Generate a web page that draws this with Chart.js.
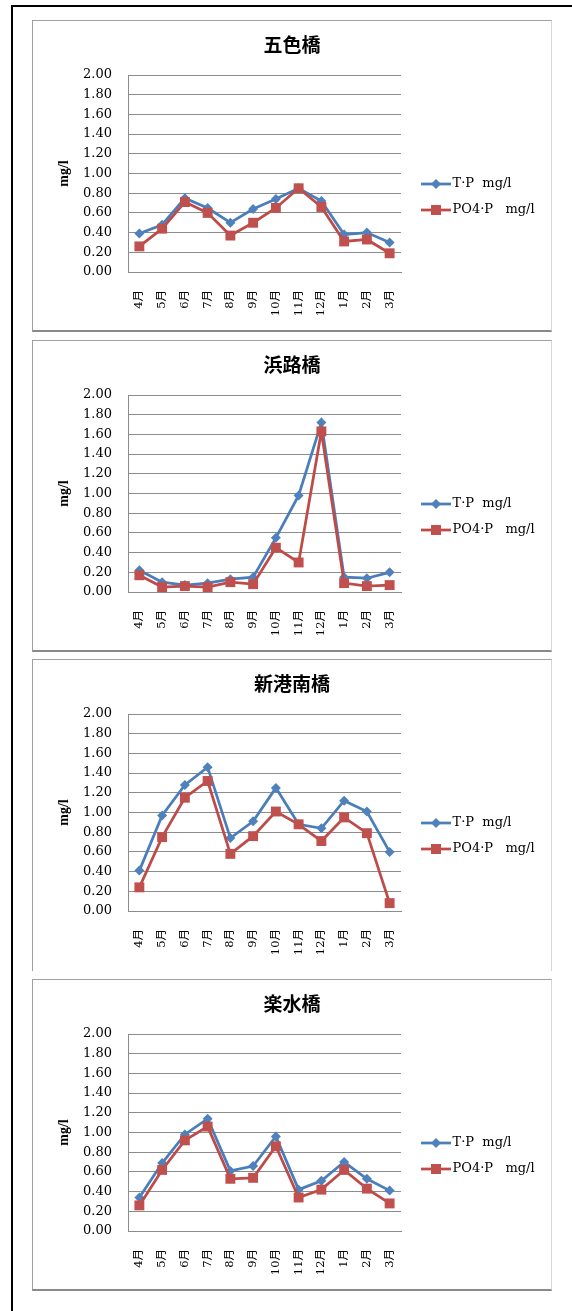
<!DOCTYPE html>
<html>
<head>
<meta charset="utf-8">
<script src="https://cdn.jsdelivr.net/npm/chart.js@4.4.1/dist/chart.umd.min.js"></script>
<style>
html,body{margin:0;padding:0;background:#fff;}
body{width:572px;height:1311px;position:relative;overflow:hidden;}
#frameTop{position:absolute;left:11px;top:5px;width:561px;height:2px;background:#000;}
#frameLeft{position:absolute;left:11px;top:5px;width:2px;height:1306px;background:#000;}
.panel{position:absolute;left:32px;width:518px;height:309px;border:1px solid #a0a0a0;border-right-color:#d6d6d6;border-bottom:2px solid #8a8a8a;background:#fff;}
.panel canvas{display:block;}
</style>
</head>
<body>
<div id="frameTop"></div>
<div id="frameLeft"></div>
<div class="panel" style="top:20px"><canvas id="c0" width="518" height="309"></canvas></div>
<div class="panel" style="top:340px"><canvas id="c1" width="518" height="309"></canvas></div>
<div class="panel" style="top:659px;height:311px;border-bottom:none"><canvas id="c2" width="518" height="309"></canvas></div>
<div class="panel" style="top:979px"><canvas id="c3" width="518" height="309"></canvas></div>
<script>
// ---- data ----
const months = ['4月','5月','6月','7月','8月','9月','10月','11月','12月','1月','2月','3月'];
const stations = ['五色橋','浜路橋','新港南橋','楽水橋'];
const seriesNames = ['T·P  mg/l','PO4·P   mg/l'];
const yAxisTitle = 'mg/l';

const tpGoshiki   = [0.39,0.48,0.75,0.65,0.50,0.64,0.74,0.85,0.72,0.38,0.40,0.30];
const po4Goshiki  = [0.26,0.44,0.71,0.60,0.37,0.50,0.65,0.85,0.66,0.31,0.33,0.19];

const tpHamaji    = [0.22,0.10,0.07,0.09,0.13,0.15,0.55,0.98,1.72,0.15,0.14,0.20];
const po4Hamaji   = [0.17,0.05,0.06,0.05,0.10,0.08,0.45,0.30,1.63,0.09,0.06,0.07];

const tpShinko    = [0.41,0.97,1.28,1.46,0.74,0.91,1.25,0.88,0.84,1.12,1.01,0.60];
const po4Shinko   = [0.24,0.75,1.15,1.32,0.58,0.76,1.01,0.88,0.71,0.95,0.79,0.08];

const tpRakusui   = [0.34,0.69,0.98,1.14,0.61,0.66,0.96,0.42,0.51,0.70,0.53,0.41];
const po4Rakusui  = [0.26,0.62,0.92,1.06,0.53,0.54,0.86,0.34,0.42,0.62,0.43,0.28];

const tpAll  = [tpGoshiki, tpHamaji, tpShinko, tpRakusui];
const po4All = [po4Goshiki, po4Hamaji, po4Shinko, po4Rakusui];

// ---- styles ----
const BLUE_LINE = '#4A7EBB', BLUE_PT = '#4F81BD';
const RED_LINE = '#BE4B48', RED_PT = '#C0504D';
const GRID = '#8c8c8c';
const LEG_FONT = 13;
const LEG_PAD = 13;
const LEG_BOX = 32;

function legendImage(lineColor, ptColor, shape) {
  const c = document.createElement('canvas');
  c.width = 60; c.height = 14;
  const g = c.getContext('2d');
  g.strokeStyle = lineColor; g.lineWidth = 2.75;
  g.beginPath(); g.moveTo(21, 7); g.lineTo(51, 7); g.stroke();
  g.fillStyle = ptColor;
  if (shape === 'rect') {
    g.fillRect(31, 2, 10, 10);
  } else {
    g.beginPath(); g.moveTo(36, 2); g.lineTo(41, 7); g.lineTo(36, 12); g.lineTo(31, 7); g.closePath(); g.fill();
  }
  return c;
}
const legendImgs = [legendImage(BLUE_LINE, BLUE_PT, 'rectRot'), legendImage(RED_LINE, RED_PT, 'rect')];

const meas = document.createElement('canvas').getContext('2d');
meas.font = LEG_FONT + 'px "DejaVu Serif"';
const textW = Math.max(...seriesNames.map(s => meas.measureText(s).width));
const legendW = LEG_PAD + LEG_BOX + LEG_FONT / 2 + textW + 10;
const sidePad = 150 - legendW;

Chart.defaults.color = '#000';

function makeChart(id, title, tp, po4) {
  new Chart(document.getElementById(id), {
    type: 'line',
    data: {
      labels: months,
      datasets: [
        { label: seriesNames[0], data: tp, order: 1,
          borderColor: BLUE_LINE, backgroundColor: BLUE_PT, borderWidth: 2.75,
          pointStyle: 'rectRot', pointRadius: 5, pointBackgroundColor: BLUE_PT,
          pointBorderColor: BLUE_PT, pointBorderWidth: 0, tension: 0 },
        { label: seriesNames[1], data: po4, order: 0,
          borderColor: RED_LINE, backgroundColor: RED_PT, borderWidth: 2.75,
          pointStyle: 'rect', pointRadius: 7, pointBackgroundColor: RED_PT,
          pointBorderColor: RED_PT, pointBorderWidth: 0, tension: 0 }
      ]
    },
    options: {
      responsive: false,
      animation: false,
      events: [],
      layout: { padding: { left: sidePad, right: sidePad, top: 0, bottom: 0 } },
      plugins: {
        tooltip: { enabled: false },
        title: {
          display: true, text: title, color: '#000',
          font: { family: '"Noto Sans CJK JP"', size: 19, weight: 'bold', lineHeight: 1.2 },
          padding: { top: 12.6, bottom: 18.6 }
        },
        legend: {
          position: 'right', align: 'start',
          maxWidth: 300,
          title: { display: true, text: '', font: { size: 12, lineHeight: 1 }, padding: { top: 131.5, bottom: 0 } },
          labels: {
            usePointStyle: true, pointStyleWidth: LEG_BOX, padding: LEG_PAD,
            color: '#000',
            font: { family: '"DejaVu Serif"', size: LEG_FONT },
            generateLabels: (chart) => chart.data.datasets.map((ds, i) => ({
              text: ds.label, pointStyle: legendImgs[i], fillStyle: ds.backgroundColor,
              strokeStyle: ds.borderColor, lineWidth: 0, hidden: false, datasetIndex: i, fontColor: '#000'
            }))
          }
        }
      },
      scales: {
        x: {
          offset: true,
          grid: { display: false, drawTicks: false },
          border: { display: true, color: GRID, width: 1 },
          ticks: {
            autoSkip: false, minRotation: 90, maxRotation: 90, padding: 18, color: '#000',
            font: { family: '"DejaVu Serif", "Noto Sans CJK JP"', size: 11.5 }
          },
          afterFit: (s) => { s.height = 309 - 251; }
        },
        y: {
          min: 0, max: 2,
          grid: { color: GRID, lineWidth: 1, drawTicks: false },
          border: { display: true, color: GRID, width: 1 },
          ticks: {
            stepSize: 0.2, padding: 16, color: '#000',
            font: { family: '"DejaVu Serif"', size: 13 },
            callback: (v) => Number(v).toFixed(2)
          },
          title: {
            display: true, text: yAxisTitle, color: '#000',
            font: { family: '"Liberation Serif"', size: 14, weight: 'bold', lineHeight: 1.2 },
            padding: { top: 31 - sidePad - 8.4, bottom: 0 }
          },
          afterFit: (s) => { s.width = 95 - sidePad; }
        }
      }
    }
  });
}

stations.forEach((name, i) => makeChart('c' + i, name, tpAll[i], po4All[i]));
</script>
</body>
</html>
